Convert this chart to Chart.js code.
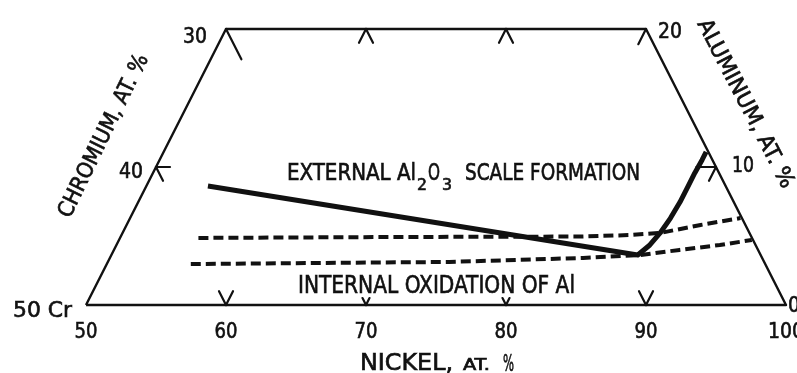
<!DOCTYPE html>
<html>
<head>
<meta charset="utf-8">
<script src="https://cdn.jsdelivr.net/npm/chart.js@4.4.1/dist/chart.umd.min.js"></script>
<style>
  html, body { margin: 0; padding: 0; background: #fff; }
</style>
</head>
<body>
<canvas id="ternary" width="797" height="373"></canvas>
<script>
// Ni-Cr-Al section, compositions in at.% (Cr = 100 - Ni - Al)
const frameNi = [50, 100, 80, 50, 50];
const frameAl = [0, 0, 20, 20, 0];

// boundary of external Al2O3 scale formation
const scaleNi = [54.4, 87.6, 88.1, 88.4, 88.6, 88.7, 88.7, 88.7, 88.75, 88.75];
const scaleAl = [8.62, 3.62, 4.35, 5.22, 6.30, 7.46, 8.55, 9.57, 10.51, 11.09];

// dashed boundaries above the internal oxidation field
const upperNi = [55.6, 70.0, 82.8, 86.3, 88.4, 91.0, 93.6];
const upperAl = [4.86, 4.93, 4.96, 5.07, 5.22, 5.80, 6.30];
const lowerNi = [56.0, 74.4, 83.8, 87.8, 90.4, 93.1, 95.2];
const lowerAl = [2.97, 3.12, 3.41, 3.62, 3.99, 4.35, 4.71];

// tick labels along the three edges
const nickelTicks = [50, 60, 70, 80, 90, 100];
const chromiumTicks = [30, 40];     // on the Ni = 50 edge
const aluminumTicks = [20, 10, 0];  // on the Cr = 0 edge

const FONT = '"DejaVu Sans Condensed", "Liberation Sans Narrow", "DejaVu Sans", sans-serif';
const INK = '#111';

// ternary -> cartesian (x runs with Ni, y with Al)
const toXY = (ni, al) => ({ x: ni + al / 2, y: al });
const pts = (niArr, alArr) => niArr.map((ni, i) => toXY(ni, alArr[i]));

// squeeze text to a given width; a light stroke thickens the lettering
function fitText(ctx, str, x, y, width, size, align, rot) {
  ctx.save();
  ctx.font = size + 'px ' + FONT;
  const w = ctx.measureText(str).width;
  ctx.translate(x, y);
  if (rot) ctx.rotate(rot);
  ctx.scale(width / w, 1);
  ctx.textAlign = align || 'left';
  ctx.lineWidth = 0.6;
  ctx.strokeStyle = INK;
  ctx.fillText(str, 0, 0);
  ctx.strokeText(str, 0, 0);
  ctx.restore();
}

const ternaryDecor = {
  id: 'ternaryDecor',
  afterDatasetsDraw(chart) {
    const ctx = chart.ctx;
    const xs = chart.scales.x, ys = chart.scales.y;
    const px = (ni, al) => {
      const p = toXY(ni, al);
      return [xs.getPixelForValue(p.x), ys.getPixelForValue(p.y)];
    };
    const seg = (ni, al, dNi, dAl) => {
      const a = px(ni, al), b = px(ni + dNi, al + dAl);
      ctx.beginPath();
      ctx.moveTo(a[0], a[1]);
      ctx.lineTo(b[0], b[1]);
      ctx.stroke();
    };

    ctx.save();
    ctx.strokeStyle = INK;
    ctx.lineWidth = 2.2;
    ctx.lineCap = 'round';
    // bottom edge: const-Ni and const-Cr ticks
    nickelTicks.slice(1, -1).forEach(ni => {
      const len = (ni === 70 || ni === 80) ? 0.5 : 1;
      seg(ni, 0, 0, len);
      seg(ni, 0, -len, len);
    });
    // top edge
    [60, 70].forEach(ni => {
      seg(ni, 20, 0, -1);
      seg(ni, 20, 1, -1);
    });
    seg(50, 20, 2.2, -2.2);
    seg(80, 20, 0, -1.1);
    // side edges
    seg(50, 10, 1, 0);
    seg(50, 10, 1, -1);
    seg(90, 10, -1.4, 0);
    seg(90, 10, 0, -1);
    ctx.restore();

    ctx.save();
    ctx.fillStyle = INK;
    ctx.textBaseline = 'alphabetic';

    nickelTicks.forEach(ni => {
      const [x, y] = px(ni, 0);
      fitText(ctx, String(ni), x, y + 33, ni === 100 ? 36 : 23, 22, 'center');
    });
    chromiumTicks.forEach(cr => {
      const al = 50 - cr;
      const [x, y] = px(50, al);
      fitText(ctx, String(cr), x - (al === 20 ? 19 : 13), y + (al === 20 ? 14 : 11), 24, 22, 'right');
    });
    aluminumTicks.forEach(al => {
      const [x, y] = px(100 - al, al);
      if (al === 20) fitText(ctx, '20', x + 12, y + 9, 24, 22, 'left');
      if (al === 10) fitText(ctx, '10', x + 16, y + 5, 22, 22, 'left');
      if (al === 0) fitText(ctx, '0', x + 2, y + 7, 12, 22, 'left');
    });
    const [cx0, cy0] = px(50, 0);
    fitText(ctx, '50 Cr', cx0 - 14, cy0 + 12, 59, 22, 'right');

    // field labels
    fitText(ctx, 'EXTERNAL Al', 287, 180, 129, 23, 'left');
    fitText(ctx, '2', 417, 190, 10, 16, 'left');
    fitText(ctx, 'O', 428, 180, 12, 23, 'left');
    fitText(ctx, '3', 442, 190, 10, 16, 'left');
    fitText(ctx, 'SCALE FORMATION', 465, 180, 175, 23, 'left');
    fitText(ctx, 'INTERNAL OXIDATION OF Al', 298, 293, 277, 24, 'left');

    // axis titles
    fitText(ctx, 'NICKEL,', 360, 370, 93, 23, 'left');
    fitText(ctx, 'AT.', 463, 370, 27, 15, 'left');
    fitText(ctx, '%', 503, 371, 11, 23, 'left');

    ctx.textBaseline = 'middle';
    fitText(ctx, 'CHROMIUM, AT. %', 104, 136, 179, 22, 'center', -63.9 * Math.PI / 180);
    fitText(ctx, 'ALUMINUM, AT. %', 745, 104, 187, 22, 'center', 62.6 * Math.PI / 180);
    ctx.restore();
  }
};

const line = (data, width, dash) => ({
  data,
  showLine: true,
  borderColor: INK,
  borderWidth: width,
  borderDash: dash || [],
  borderCapStyle: 'butt',
  borderJoinStyle: 'round',
  pointRadius: 0,
  tension: 0,
  clip: false
});

const ctx = document.getElementById('ternary').getContext('2d');
new Chart(ctx, {
  type: 'scatter',
  data: {
    datasets: [
      line(pts(frameNi, frameAl), 2.4),
      line(pts(scaleNi, scaleAl), 5),
      line(pts(upperNi, upperAl), 4, [10, 5]),
      line(pts(lowerNi, lowerAl), 4, [10, 5])
    ]
  },
  options: {
    responsive: false,
    devicePixelRatio: 1,
    animation: false,
    layout: { padding: { left: 86, right: 11, top: 29, bottom: 68 } },
    plugins: { legend: { display: false }, tooltip: { enabled: false } },
    scales: {
      x: { type: 'linear', min: 50, max: 100, display: false },
      y: { type: 'linear', min: 0, max: 20, display: false }
    }
  },
  plugins: [ternaryDecor]
});
</script>
</body>
</html>
